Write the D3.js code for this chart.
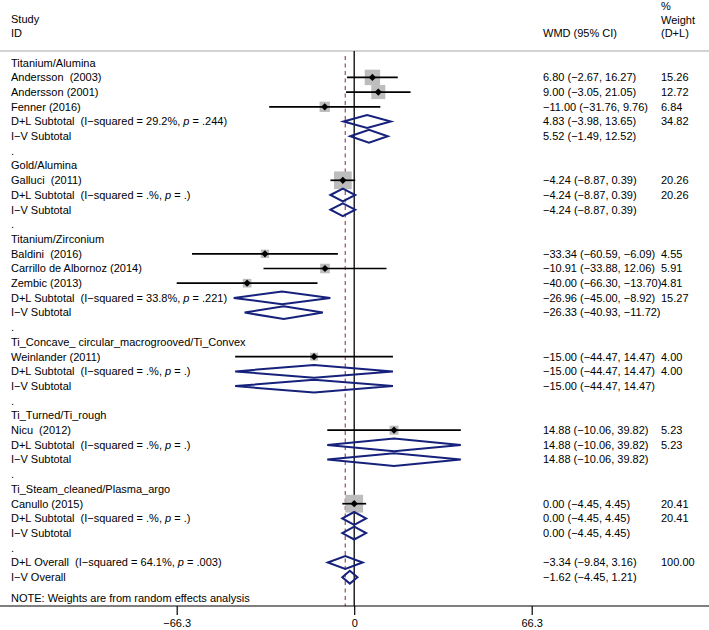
<!DOCTYPE html>
<html><head><meta charset="utf-8">
<script src="https://cdn.jsdelivr.net/npm/d3@7"></script>
<style>
html,body{margin:0;padding:0;background:#fff;}
svg text{font-family:"Liberation Sans",Arial,Helvetica,sans-serif;font-size:11px;fill:#000;white-space:pre;}
</style></head>
<body>
<svg id="chart" width="709" height="630"></svg>
<script>
// ---------- DATA ----------
const rowLabels = [
  "Titanium/Alumina",
  "Andersson  (2003)",
  "Andersson (2001)",
  "Fenner (2016)",
  "D+L Subtotal  (I\u2212squared = 29.2%, p = .244)",
  "I\u2212V Subtotal",
  ".",
  "Gold/Alumina",
  "Galluci  (2011)",
  "D+L Subtotal  (I\u2212squared = .%, p = .)",
  "I\u2212V Subtotal",
  ".",
  "Titanium/Zirconium",
  "Baldini  (2016)",
  "Carrillo de Albornoz (2014)",
  "Zembic (2013)",
  "D+L Subtotal  (I\u2212squared = 33.8%, p = .221)",
  "I\u2212V Subtotal",
  ".",
  "Ti_Concave_ circular_macrogrooved/Ti_Convex",
  "Weinlander (2011)",
  "D+L Subtotal  (I\u2212squared = .%, p = .)",
  "I\u2212V Subtotal",
  ".",
  "Ti_Turned/Ti_rough",
  "Nicu  (2012)",
  "D+L Subtotal  (I\u2212squared = .%, p = .)",
  "I\u2212V Subtotal",
  ".",
  "Ti_Steam_cleaned/Plasma_argo",
  "Canullo (2015)",
  "D+L Subtotal  (I\u2212squared = .%, p = .)",
  "I\u2212V Subtotal",
  ".",
  "D+L Overall  (I\u2212squared = 64.1%, p = .003)",
  "I\u2212V Overall"
];
const rowTypes = [
  "group","study","study","study","pooled","pooled","blank",
  "group","study","pooled","pooled","blank",
  "group","study","study","study","pooled","pooled","blank",
  "group","study","pooled","pooled","blank",
  "group","study","pooled","pooled","blank",
  "group","study","pooled","pooled","blank",
  "pooled","pooled"
];
const effect = [
  null, 6.80, 9.00, -11.00, 4.83, 5.52, null,
  null, -4.24, -4.24, -4.24, null,
  null, -33.34, -10.91, -40.00, -26.96, -26.33, null,
  null, -15.00, -15.00, -15.00, null,
  null, 14.88, 14.88, 14.88, null,
  null, 0.00, 0.00, 0.00, null,
  -3.34, -1.62
];
const ciLow = [
  null, -2.67, -3.05, -31.76, -3.98, -1.49, null,
  null, -8.87, -8.87, -8.87, null,
  null, -60.59, -33.88, -66.30, -45.00, -40.93, null,
  null, -44.47, -44.47, -44.47, null,
  null, -10.06, -10.06, -10.06, null,
  null, -4.45, -4.45, -4.45, null,
  -9.84, -4.45
];
const ciHigh = [
  null, 16.27, 21.05, 9.76, 13.65, 12.52, null,
  null, 0.39, 0.39, 0.39, null,
  null, -6.09, 12.06, -13.70, -8.92, -11.72, null,
  null, 14.47, 14.47, 14.47, null,
  null, 39.82, 39.82, 39.82, null,
  null, 4.45, 4.45, 4.45, null,
  3.16, 1.21
];
const weight = [
  null, 15.26, 12.72, 6.84, 34.82, null, null,
  null, 20.26, 20.26, null, null,
  null, 4.55, 5.91, 4.81, 15.27, null, null,
  null, 4.00, 4.00, null, null,
  null, 5.23, 5.23, null, null,
  null, 20.41, 20.41, null, null,
  100.00, null
];
const tickValues = [-66.3, 0, 66.3];
const tickLabels = ["\u221266.3", "0", "66.3"];
const headerLeft = ["Study", "ID"];
const headerEffect = "WMD (95% CI)";
const headerWeight = ["%", "Weight", "(D+L)"];
const noteText = "NOTE: Weights are from random effects analysis";
const overallEffect = -3.34;

// ---------- LAYOUT ----------
const W = 709, H = 630;
const svg = d3.select("#chart");
const x = d3.scaleLinear().domain([-66.3, 66.3]).range([176.7, 531.7]);
const y = d3.scaleLinear().domain([0, rowLabels.length - 1]).range([62.7, 62.7 + (rowLabels.length - 1) * 14.7]);
const sq = d3.scaleSqrt().domain([0, 20.41]).range([0, 17.8]);
const textX = 11, effX = 543, wX = 661;
const axisY = 606, topRule = 51;
const navy = "#16217c";

const fmt = v => (v < 0 ? "\u2212" : "") + Math.abs(v).toFixed(2);

// header
svg.append("text").attr("x", textX).attr("y", 19).attr("dy", "0.35em").text(headerLeft[0]);
svg.append("text").attr("x", textX).attr("y", 33.5).attr("dy", "0.35em").text(headerLeft[1]);
svg.append("text").attr("x", effX).attr("y", 33.5).attr("dy", "0.35em").text(headerEffect);
headerWeight.forEach((t, i) => {
  svg.append("text").attr("x", wX).attr("y", 6 + i * 13.8).attr("dy", "0.35em").text(t);
});
svg.append("line").attr("x1", 0).attr("x2", W).attr("y1", topRule).attr("y2", topRule)
  .attr("stroke", "#a8a8a8").attr("stroke-width", 1.2);

// reference lines
svg.append("line").attr("x1", x(0)).attr("x2", x(0)).attr("y1", topRule).attr("y2", axisY)
  .attr("stroke", "#000").attr("stroke-width", 1.3);
svg.append("line").attr("x1", x(overallEffect)).attr("x2", x(overallEffect)).attr("y1", 56).attr("y2", axisY)
  .attr("stroke", "#a3475a").attr("stroke-width", 1.2).attr("stroke-dasharray", "4,3.5");

// row labels
const rows = rowLabels.map((lab, i) => ({lab, i, type: rowTypes[i], es: effect[i], lo: ciLow[i], hi: ciHigh[i], w: weight[i]}));

const lbl = svg.append("g").selectAll("text").data(rows).join("text")
  .attr("x", textX).attr("y", d => y(d.i)).attr("dy", "0.35em");
lbl.each(function(d) {
  const t = d3.select(this);
  const k = d.lab.indexOf("p = ");
  if (k >= 0) {
    t.append("tspan").text(d.lab.slice(0, k));
    t.append("tspan").attr("font-style", "italic").text("p");
    t.append("tspan").text(d.lab.slice(k + 1));
  } else {
    t.text(d.lab);
  }
});

// effect text + weight
const withEs = rows.filter(d => d.es !== null);
svg.append("g").selectAll("text").data(withEs).join("text")
  .attr("x", effX).attr("y", d => y(d.i)).attr("dy", "0.35em")
  .text(d => `${fmt(d.es)} (${fmt(d.lo)}, ${fmt(d.hi)})`);
svg.append("g").selectAll("text").data(rows.filter(d => d.w !== null)).join("text")
  .attr("x", wX).attr("y", d => y(d.i)).attr("dy", "0.35em")
  .text(d => d.w.toFixed(2));

// studies: squares, CI lines, point markers
const studies = rows.filter(d => d.type === "study");
svg.append("g").selectAll("rect").data(studies).join("rect")
  .attr("x", d => x(d.es) - sq(d.w) / 2).attr("y", d => y(d.i) - sq(d.w) / 2)
  .attr("width", d => sq(d.w)).attr("height", d => sq(d.w))
  .attr("fill", "#bdbdbd");
svg.append("g").selectAll("line").data(studies).join("line")
  .attr("x1", d => x(d.lo)).attr("x2", d => x(d.hi))
  .attr("y1", d => y(d.i)).attr("y2", d => y(d.i))
  .attr("stroke", "#000").attr("stroke-width", 1.7);
svg.append("g").selectAll("path").data(studies).join("path")
  .attr("d", d => {
    const cx = x(d.es), cy = y(d.i), r = 3.6;
    return `M${cx - r},${cy}L${cx},${cy - r}L${cx + r},${cy}L${cx},${cy + r}Z`;
  })
  .attr("fill", "#000");

// pooled diamonds
const pooled = rows.filter(d => d.type === "pooled");
svg.append("g").selectAll("path").data(pooled).join("path")
  .attr("d", d => {
    const cy = y(d.i), h = 6.4;
    return `M${x(d.lo)},${cy}L${x(d.es)},${cy - h}L${x(d.hi)},${cy}L${x(d.es)},${cy + h}Z`;
  })
  .attr("fill", "none").attr("stroke", navy).attr("stroke-width", 2).attr("stroke-linejoin", "miter");

// note
svg.append("text").attr("x", textX).attr("y", 598).attr("dy", "0.35em").text(noteText);

// axis
svg.append("line").attr("x1", 0).attr("x2", W).attr("y1", axisY).attr("y2", axisY)
  .attr("stroke", "#000").attr("stroke-width", 1.2);
const axis = d3.axisBottom(x).tickValues(tickValues).tickSize(9).tickPadding(4)
  .tickFormat((d, i) => tickLabels[i]);
const ag = svg.append("g").attr("transform", `translate(0,${axisY})`).call(axis);
ag.select(".domain").remove();
ag.selectAll(".tick line").attr("stroke", "#000").attr("stroke-width", 1.2);
ag.selectAll(".tick text").attr("font-family", null).attr("font-size", null).style("font-size", "11px");
</script>
</body></html>
